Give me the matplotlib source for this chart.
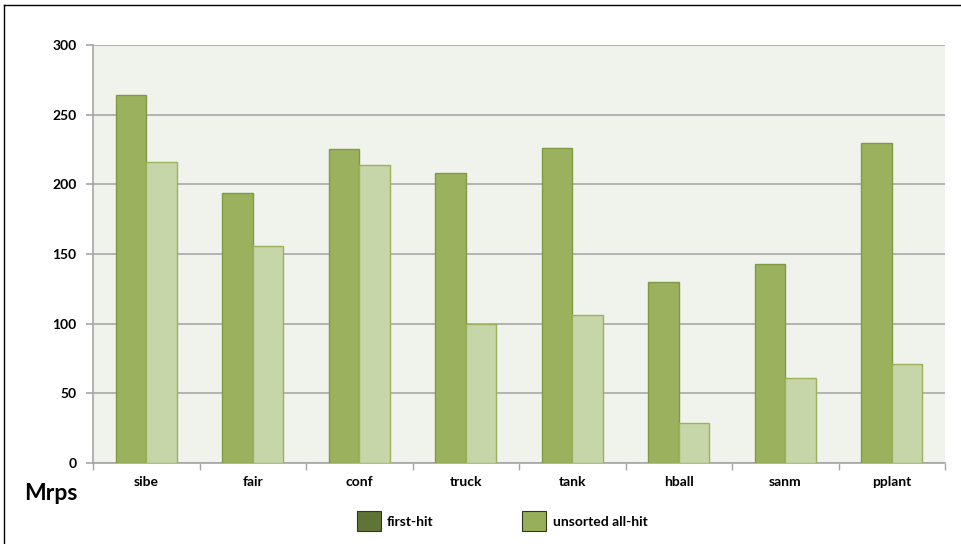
import matplotlib
matplotlib.use("Agg")
import matplotlib.pyplot as plt
import numpy as np
from matplotlib.patches import Patch
from matplotlib.lines import Line2D

categories = ["sibe", "fair", "conf", "truck", "tank", "hball", "sanm", "pplant"]
first_hit = [264, 194, 225, 208, 226, 130, 143, 230]
unsorted_all_hit = [216, 156, 214, 100, 106, 29, 61, 71]
yticks = [0, 50, 100, 150, 200, 250, 300]

plt.rcParams["font.family"] = ["Lato", "DejaVu Sans"]

fig = plt.figure(figsize=(9.61, 5.44), dpi=100)
W, H = 961, 544
ax = fig.add_axes([93 / W, 1 - 463 / H, 852 / W, 418 / H])
ax.set_facecolor("#f0f3ec")

x = np.arange(len(categories))
bw = 0.286
ax.bar(x - bw / 2, first_hit, bw, color="#9bb15e", edgecolor="#7f9a46",
       linewidth=1.0, zorder=3)
ax.bar(x + bw / 2, unsorted_all_hit, bw, color="#c6d6a8", edgecolor="#9bb15e",
       linewidth=1.0, zorder=3)

ax.set_xlim(-0.5, len(categories) - 0.5)
ax.set_ylim(0, 300)
ax.set_yticks(yticks)
ax.set_yticklabels([str(v) for v in yticks], fontsize=10, fontweight="bold")
ax.yaxis.grid(True, color="#b3b3b3", linewidth=1.4, zorder=1)
ax.set_axisbelow(True)

ax.set_xticks(x)
ax.set_xticklabels(categories, fontsize=10, fontweight="bold")
ax.tick_params(axis="x", length=0, pad=9)
ax.tick_params(axis="y", length=5, color="#a6a6a6", width=1.2, pad=7)
# boundary ticks between categories
ax.set_xticks(np.arange(len(categories) + 1) - 0.5, minor=True)
ax.tick_params(axis="x", which="minor", length=5, color="#a6a6a6", width=1.0)

for side in ("top", "right"):
    ax.spines[side].set_visible(False)
for side in ("left", "bottom"):
    ax.spines[side].set_color("#a6a6a6")
    ax.spines[side].set_linewidth(1.2)

fig.text(24 / W, 1 - 493 / H, "Mrps", fontsize=16.5, fontweight="bold",
         va="center", ha="left")

handles = [Patch(facecolor="#5f7436", edgecolor="#2e3a1a", linewidth=0.8),
           Patch(facecolor="#97af5a", edgecolor="#2e3a1a", linewidth=0.8)]
leg = fig.legend(handles, ["first-hit", "unsorted all-hit"], loc="center",
                 bbox_to_anchor=(502 / W, 1 - 521 / H), ncol=2, frameon=False,
                 prop={"size": 10, "weight": "bold"}, handlelength=1.73,
                 handleheight=1.73, columnspacing=6.4, handletextpad=0.45)

# outer frame lines (top and left)
fig.add_artist(Line2D([4 / W, 1], [1 - 5 / H, 1 - 5 / H], color="black",
                      linewidth=1.0, transform=fig.transFigure))
fig.add_artist(Line2D([4 / W, 4 / W], [0, 1 - 5 / H], color="black",
                      linewidth=1.0, transform=fig.transFigure))

fig.savefig("out.png", dpi=100)
